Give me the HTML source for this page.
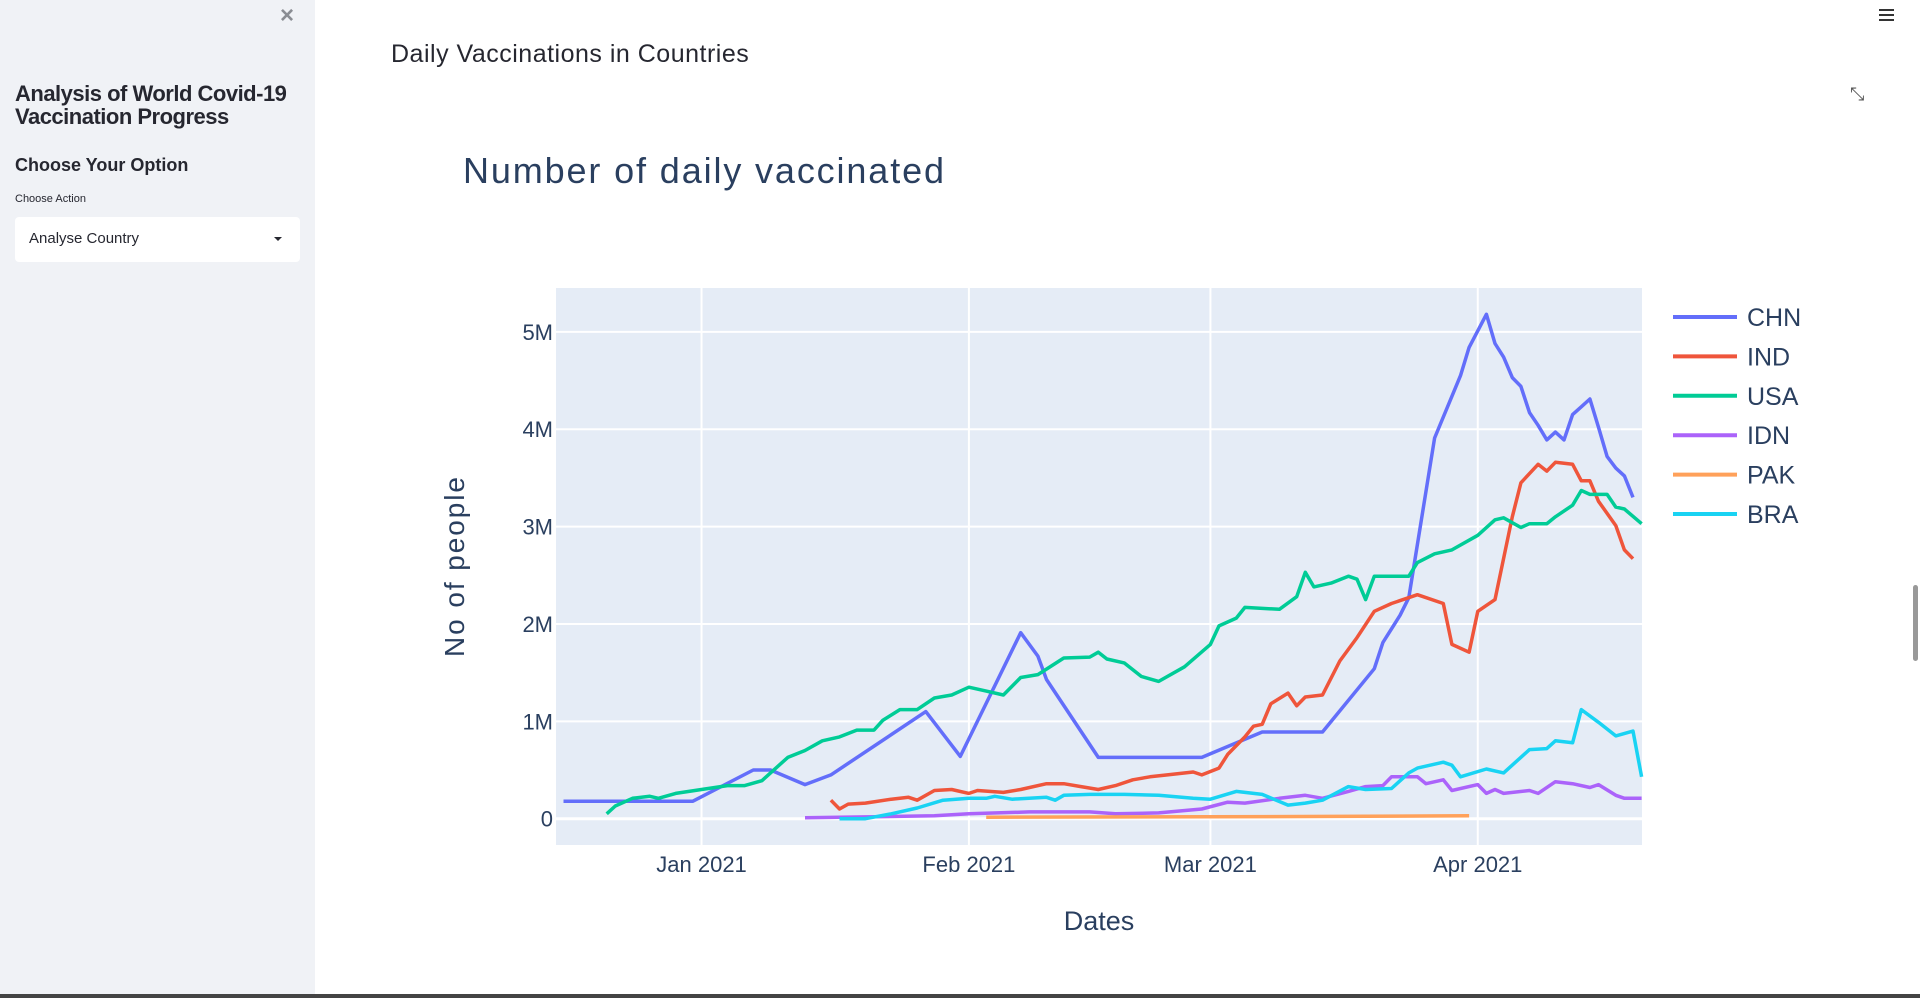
<!DOCTYPE html>
<html><head><meta charset="utf-8"><style>
body{margin:0;width:1920px;height:998px;overflow:hidden;background:#fff;font-family:"Liberation Sans",sans-serif;position:relative}
#sidebar{position:absolute;left:0;top:0;width:315px;height:994px;background:#f0f2f6}
.abs{position:absolute}
</style></head><body>
<div id="sidebar">
 <div class="abs" style="left:280px;top:2px;font-size:24px;color:#8a8d93;font-weight:bold">×</div>
 <div class="abs" style="left:15px;top:82px;width:300px;font-size:22px;font-weight:bold;line-height:23px;color:#262730;letter-spacing:-0.5px">Analysis of World Covid-19 Vaccination Progress</div>
 <div class="abs" style="left:15px;top:155px;font-size:18px;font-weight:bold;color:#262730">Choose Your Option</div>
 <div class="abs" style="left:15px;top:193px;font-size:11px;color:#262730">Choose Action</div>
 <div class="abs" style="left:15px;top:217px;width:285px;height:45px;background:#fff;border-radius:4px">
  <span class="abs" style="left:14px;top:13px;font-size:15px;color:#262730">Analyse Country</span>
  <span class="abs" style="left:259px;top:20px;width:0;height:0;border-left:4px solid transparent;border-right:4px solid transparent;border-top:4px solid #262730"></span>
 </div>
</div>
<div class="abs" style="left:391px;top:40px;font-size:25px;color:#262730;letter-spacing:0.5px">Daily Vaccinations in Countries</div>
<div class="abs" style="left:1879px;top:9px;width:15px;height:12px;border-top:2px solid #333;border-bottom:2px solid #333;box-sizing:border-box"><div style="margin-top:3px;height:2px;background:#333"></div></div>
<div class="abs" style="left:1850px;top:84px;font-size:18px;color:#555">⤡</div>
<div class="abs" style="left:1913px;top:585px;width:5px;height:76px;background:#999;border-radius:3px"></div>
<div class="abs" style="left:0;top:994px;width:1920px;height:4px;background:#444"></div>
<svg id="chart" class="abs" style="left:0;top:0" width="1920" height="998"></svg>
<script>
const seriesNames=['CHN','IND','USA','IDN','PAK','BRA'];
const seriesColors=['#636efa','#EF553B','#00cc96','#ab63fa','#FFA15A','#19d3f3'];
const chnDates=['2020-12-16','2020-12-31','2021-01-07','2021-01-09','2021-01-13','2021-01-16','2021-01-27','2021-01-31','2021-02-07','2021-02-09','2021-02-10','2021-02-16','2021-02-28','2021-03-07','2021-03-14','2021-03-20','2021-03-21','2021-03-23','2021-03-24','2021-03-27','2021-03-30','2021-03-31','2021-04-02','2021-04-03','2021-04-04','2021-04-05','2021-04-06','2021-04-07','2021-04-08','2021-04-09','2021-04-10','2021-04-11','2021-04-12','2021-04-13','2021-04-14','2021-04-15','2021-04-16','2021-04-17','2021-04-18','2021-04-19'];
const chnValues=[0.18,0.18,0.50,0.50,0.35,0.45,1.10,0.64,1.91,1.67,1.43,0.63,0.63,0.89,0.89,1.54,1.81,2.09,2.27,3.91,4.55,4.84,5.18,4.88,4.74,4.53,4.44,4.17,4.04,3.89,3.97,3.89,4.15,4.23,4.31,4.02,3.72,3.60,3.52,3.30];
const indDates=['2021-01-16','2021-01-17','2021-01-18','2021-01-20','2021-01-23','2021-01-25','2021-01-26','2021-01-28','2021-01-30','2021-02-01','2021-02-02','2021-02-05','2021-02-07','2021-02-10','2021-02-12','2021-02-14','2021-02-16','2021-02-18','2021-02-20','2021-02-22','2021-02-24','2021-02-27','2021-02-28','2021-03-02','2021-03-03','2021-03-05','2021-03-06','2021-03-07','2021-03-08','2021-03-10','2021-03-11','2021-03-12','2021-03-14','2021-03-16','2021-03-18','2021-03-20','2021-03-22','2021-03-25','2021-03-28','2021-03-29','2021-03-31','2021-04-01','2021-04-03','2021-04-05','2021-04-06','2021-04-08','2021-04-09','2021-04-10','2021-04-12','2021-04-13','2021-04-14','2021-04-15','2021-04-17','2021-04-18','2021-04-19'];
const indValues=[0.19,0.10,0.15,0.16,0.20,0.22,0.19,0.29,0.30,0.26,0.29,0.27,0.30,0.36,0.36,0.33,0.30,0.34,0.40,0.43,0.45,0.48,0.45,0.52,0.66,0.84,0.95,0.97,1.18,1.29,1.16,1.25,1.27,1.62,1.86,2.13,2.21,2.30,2.21,1.79,1.71,2.13,2.25,3.10,3.45,3.64,3.57,3.66,3.64,3.47,3.47,3.26,3.01,2.76,2.67];
const usaDates=['2020-12-21','2020-12-22','2020-12-24','2020-12-26','2020-12-27','2020-12-29','2021-01-01','2021-01-04','2021-01-06','2021-01-08','2021-01-09','2021-01-11','2021-01-13','2021-01-15','2021-01-17','2021-01-19','2021-01-21','2021-01-22','2021-01-24','2021-01-26','2021-01-28','2021-01-30','2021-02-01','2021-02-03','2021-02-05','2021-02-07','2021-02-09','2021-02-12','2021-02-15','2021-02-16','2021-02-17','2021-02-19','2021-02-21','2021-02-23','2021-02-26','2021-03-01','2021-03-02','2021-03-04','2021-03-05','2021-03-09','2021-03-11','2021-03-12','2021-03-13','2021-03-15','2021-03-17','2021-03-18','2021-03-19','2021-03-20','2021-03-24','2021-03-25','2021-03-27','2021-03-29','2021-04-01','2021-04-03','2021-04-04','2021-04-06','2021-04-07','2021-04-09','2021-04-10','2021-04-12','2021-04-13','2021-04-14','2021-04-16','2021-04-17','2021-04-18','2021-04-20'];
const usaValues=[0.05,0.13,0.21,0.23,0.21,0.26,0.30,0.34,0.34,0.39,0.47,0.63,0.70,0.80,0.84,0.91,0.91,1.01,1.12,1.12,1.24,1.27,1.35,1.31,1.27,1.45,1.48,1.65,1.66,1.71,1.64,1.60,1.46,1.41,1.56,1.79,1.98,2.06,2.17,2.15,2.28,2.53,2.38,2.42,2.49,2.46,2.25,2.49,2.49,2.63,2.72,2.76,2.91,3.07,3.09,2.99,3.03,3.03,3.10,3.22,3.37,3.33,3.33,3.20,3.18,3.03];
const idnDates=['2021-01-13','2021-01-21','2021-01-28','2021-02-01','2021-02-08','2021-02-15','2021-02-18','2021-02-23','2021-02-28','2021-03-03','2021-03-05','2021-03-09','2021-03-12','2021-03-14','2021-03-17','2021-03-19','2021-03-21','2021-03-22','2021-03-25','2021-03-26','2021-03-28','2021-03-29','2021-04-01','2021-04-02','2021-04-03','2021-04-04','2021-04-07','2021-04-08','2021-04-10','2021-04-12','2021-04-14','2021-04-15','2021-04-17','2021-04-18','2021-04-20'];
const idnValues=[0.01,0.02,0.03,0.05,0.07,0.07,0.05,0.06,0.10,0.17,0.16,0.21,0.24,0.21,0.28,0.33,0.34,0.43,0.43,0.36,0.40,0.29,0.35,0.26,0.30,0.26,0.29,0.26,0.38,0.36,0.32,0.35,0.24,0.21,0.21];
const pakDates=['2021-02-03','2021-03-01','2021-03-31'];
const pakValues=[0.015,0.02,0.03];
const braDates=['2021-01-17','2021-01-20','2021-01-23','2021-01-26','2021-01-29','2021-02-01','2021-02-03','2021-02-04','2021-02-06','2021-02-10','2021-02-11','2021-02-12','2021-02-15','2021-02-19','2021-02-23','2021-02-27','2021-03-01','2021-03-04','2021-03-07','2021-03-10','2021-03-12','2021-03-14','2021-03-17','2021-03-19','2021-03-22','2021-03-24','2021-03-25','2021-03-28','2021-03-29','2021-03-30','2021-04-02','2021-04-04','2021-04-07','2021-04-09','2021-04-10','2021-04-12','2021-04-13','2021-04-15','2021-04-17','2021-04-19','2021-04-20'];
const braValues=[0.0,0.0,0.05,0.11,0.19,0.21,0.21,0.23,0.20,0.22,0.19,0.24,0.25,0.25,0.24,0.21,0.20,0.28,0.25,0.14,0.16,0.19,0.33,0.30,0.31,0.47,0.52,0.58,0.55,0.43,0.51,0.47,0.71,0.72,0.80,0.78,1.12,0.99,0.85,0.90,0.43];
const yTickValues=[0,1,2,3,4,5];
const yTickLabels=['0','1M','2M','3M','4M','5M'];
const xTickDates=['2021-01-01','2021-02-01','2021-03-01','2021-04-01'];
const xTickLabels=['Jan 2021','Feb 2021','Mar 2021','Apr 2021'];
const xDomain=['2020-12-15T03:00','2021-04-20T01:00'];
const yDomain=[-0.27,5.45];

const seriesDates=[chnDates,indDates,usaDates,idnDates,pakDates,braDates];
const seriesValues=[chnValues,indValues,usaValues,idnValues,pakValues,braValues];
const PL=556,PR=1642,PT=288,PB=845;
const t0=Date.parse(xDomain[0]+'Z'),t1=Date.parse(xDomain[1]+'Z');
function xs(d){return PL+(Date.parse(d+(d.length>10?'Z':'T00:00Z'))-t0)/(t1-t0)*(PR-PL);}
function ys(v){return PB-(v-yDomain[0])/(yDomain[1]-yDomain[0])*(PB-PT);}
const NS='http://www.w3.org/2000/svg';
const svg=document.getElementById('chart');
function mk(tag,attrs,parent){const e=document.createElementNS(NS,tag);for(const k in attrs)e.setAttribute(k,attrs[k]);(parent||svg).appendChild(e);return e;}
const font='"Liberation Sans",sans-serif';
const bg=mk('rect',{x:PL,y:PT,width:PR-PL,height:PB-PT,fill:'#e5ecf6'});


xTickDates.forEach((d,i)=>{
 const x=xs(d);
 const g=mk('line',{x1:x,x2:x,y1:PT,y2:PB,stroke:'#fff','stroke-width':2});
 
 
 const t=mk('text',{x:x,y:872,'text-anchor':'middle','font-size':22,fill:'#2a3f5f','font-family':font});
 t.textContent=xTickLabels[i];
 
 
});
yTickValues.forEach((v,i)=>{
 const y=ys(v);
 const g=mk('line',{x1:PL,x2:PR,y1:y,y2:y,stroke:'#fff','stroke-width':v===0?3:2});
 
 
 const t=mk('text',{x:553,y:y+8,'text-anchor':'end','font-size':22,fill:'#2a3f5f','font-family':font});
 t.textContent=yTickLabels[i];
 
 
});
seriesNames.forEach((n,i)=>{
 const pts=seriesDates[i].map((d,j)=>xs(d).toFixed(1)+','+ys(seriesValues[i][j]).toFixed(1)).join(' ');
 const p=mk('polyline',{points:pts,fill:'none',stroke:seriesColors[i],'stroke-width':3.5,'stroke-linejoin':'round'});
 
 
 const ly=317+i*39.4;
 const l=mk('line',{x1:1673,x2:1737,y1:ly,y2:ly,stroke:seriesColors[i],'stroke-width':4});
 
 
 const t=mk('text',{x:1747,y:ly+9,'font-size':25,fill:'#2a3f5f','font-family':font});
 t.textContent=n;
 
 
});
const title=mk('text',{x:463,y:183,'font-size':36,fill:'#2a3f5f','font-family':font,textLength:481,lengthAdjust:'spacing'});
title.textContent='Number of daily vaccinated';


const xt=mk('text',{x:1099,y:930,'text-anchor':'middle','font-size':27,fill:'#2a3f5f','font-family':font});
xt.textContent='Dates';


const yt=mk('text',{x:0,y:0,'text-anchor':'middle','font-size':28,fill:'#2a3f5f','font-family':font,transform:'translate(464,567) rotate(-90)',textLength:180,lengthAdjust:'spacing'});
yt.textContent='No of people';


</script>
</body></html>
